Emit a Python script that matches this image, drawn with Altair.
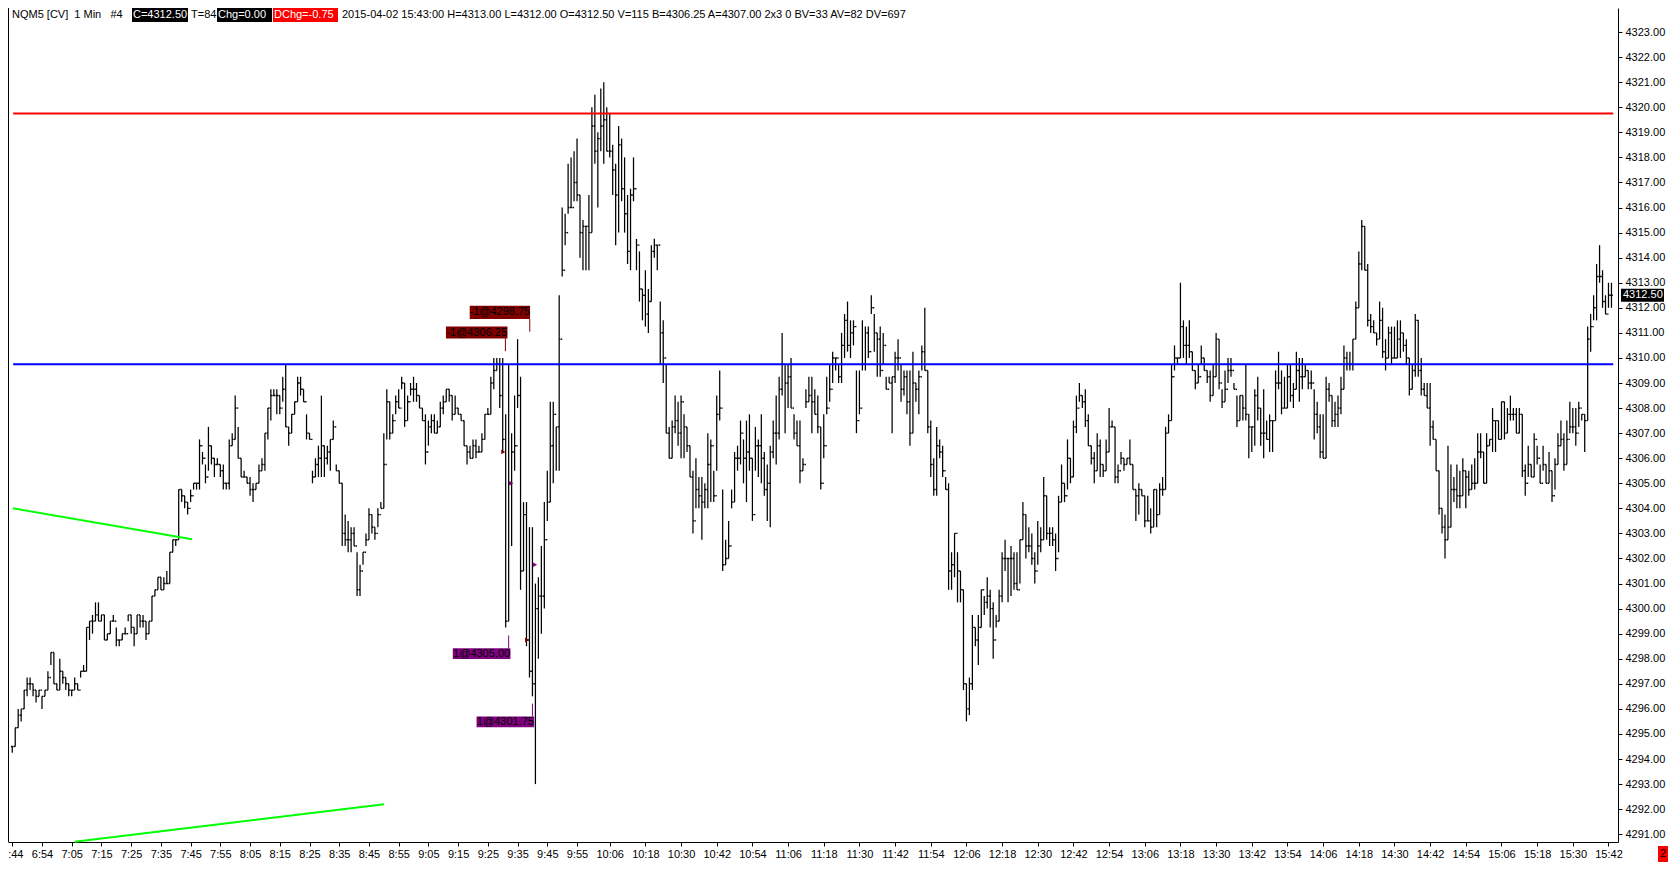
import json
import altair as alt
import pandas as pd

# ---------------- data: 1-minute bars (high, low, close), bar 0 = 6:44 ----------------
SEG1 = [
    (4294.5,4294.25,4294.5),(4295.25,4294.5,4295.25),(4296.0,4295.25,4295.75),(4296.0,4295.5,4296.0),(4296.75,4296.0,4296.75),(4297.25,4296.5,4297.0),(4297.25,4296.75,4297.0),(4297.0,4296.5,4296.75),(4296.75,4296.25,4296.5),(4296.75,4296.5,4296.75),
    (4296.5,4296.0,4296.5),(4296.75,4296.5,4296.75),(4297.5,4296.75,4297.25),(4298.25,4297.75,4298.25),(4298.25,4297.0,4297.0),(4297.0,4296.75,4296.75),(4298.0,4296.75,4297.5),(4297.5,4297.0,4297.25),(4297.25,4296.75,4297.0),(4297.0,4296.5,4296.75),
    (4296.75,4296.5,4296.75),(4297.25,4296.75,4297.0),(4297.0,4296.75,4296.75),(4297.5,4297.25,4297.5),(4297.75,4297.5,4297.5),(4299.25,4297.5,4299.25),(4299.5,4298.75,4299.5),(4299.75,4299.0,4299.5),(4300.25,4299.5,4299.75),(4300.25,4299.5,4299.5),
    (4299.75,4299.5,4299.75),(4299.75,4298.75,4298.75),(4299.0,4298.75,4299.0),(4299.5,4299.0,4299.5),(4299.75,4299.5,4299.5),(4299.25,4298.5,4298.75),(4298.75,4298.5,4298.75),(4299.0,4298.75,4299.0),(4299.25,4299.0,4299.0),(4299.75,4299.5,4299.75),
    (4299.75,4299.0,4299.25),(4299.25,4298.5,4299.0),(4299.75,4299.0,4299.75),(4299.75,4299.25,4299.5),(4299.75,4299.25,4299.5),(4299.5,4298.75,4299.0),(4299.5,4299.0,4299.5),(4300.5,4299.5,4300.5),(4300.75,4300.5,4300.75),(4301.25,4300.75,4301.25),
    (4301.25,4300.75,4300.75),(4301.25,4300.75,4301.0),(4301.5,4301.0,4301.0),(4302.25,4301.0,4302.25),(4302.75,4302.25,4302.75),(4302.75,4302.5,4302.75),(4304.75,4302.75,4304.75),(4304.75,4304.25,4304.5),(4304.5,4304.0,4304.25),(4304.25,4303.75,4304.0),
    (4304.75,4304.25,4304.5),(4305.0,4304.75,4305.0),(4305.0,4304.75,4305.0),(4306.75,4304.75,4306.5),(4306.25,4305.75,4306.0),(4305.75,4305.0,4305.25),(4307.25,4305.5,4306.5),(4306.5,4305.75,4306.0),(4306.0,4305.25,4305.75),(4306.0,4305.75,4305.75),
    (4305.75,4305.25,4305.5),(4305.75,4304.75,4305.0),(4305.0,4304.75,4305.0),(4306.75,4304.75,4306.5),(4307.0,4306.5,4306.75),(4308.5,4306.75,4308.0),(4307.25,4306.0,4306.0),(4306.0,4305.25,4305.25),(4305.5,4305.25,4305.25),(4305.25,4305.0,4305.0),
    (4305.25,4304.5,4304.75),(4305.0,4304.25,4304.75),(4305.0,4304.75,4305.0),(4305.75,4305.0,4305.5),(4306.0,4305.5,4305.75),(4307.0,4305.5,4307.0),(4308.0,4306.75,4308.0),(4308.75,4307.5,4308.5),(4308.75,4308.5,4308.5),
]
SEG2 = [
    (4308.75,4307.75,4308.5),(4308.5,4307.75,4308.0),(4309.25,4308.25,4308.75),(4309.75,4307.25,4307.25),(4307.25,4306.5,4307.0),(4307.75,4307.0,4307.75),(4308.25,4307.75,4308.25),(4309.25,4308.25,4309.0),(4309.25,4308.5,4308.75),(4308.75,4308.25,4308.25),
    (4307.75,4306.75,4307.0),(4307.0,4306.75,4306.75),(4305.5,4305.0,4305.25),(4306.0,4305.25,4305.75),(4306.5,4305.25,4306.0),(4308.5,4305.25,4306.5),(4306.5,4305.25,4306.0),(4306.5,4305.75,4306.25),(4306.75,4305.5,4306.75),(4307.5,4306.75,4307.25),
    (4305.75,4305.5,4305.5),(4305.5,4305.0,4305.0),(4305.0,4302.5,4303.0),(4303.75,4302.5,4302.75),(4303.5,4302.25,4302.75),(4303.25,4302.25,4303.0),(4303.25,4302.5,4302.5),(4302.25,4300.5,4300.75),(4301.75,4300.5,4301.5),(4302.25,4301.75,4302.25),
    (4303.0,4302.5,4302.75),(4304.0,4302.75,4303.75),(4303.75,4303.0,4303.25),(4303.25,4302.75,4303.0),(4304.0,4303.25,4303.75),(4304.25,4304.0,4304.0),(4307.0,4304.0,4305.75),(4308.75,4306.75,4308.25),(4308.25,4306.75,4307.0),(4307.75,4307.0,4307.5),
    (4308.5,4307.75,4308.25),(4308.75,4308.0,4308.0),(4309.25,4308.75,4309.0),(4309.0,4307.25,4307.5),(4308.5,4307.5,4308.25),(4309.0,4308.5,4308.75),(4309.25,4308.25,4308.75),(4309.0,4308.25,4308.5),(4308.5,4308.0,4308.0),(4308.0,4307.5,4307.5),
    (4307.75,4305.75,4306.25),(4307.5,4306.5,4307.25),(4307.75,4307.0,4307.5),(4307.75,4307.0,4307.0),(4307.5,4307.0,4307.25),(4308.25,4307.25,4308.0),(4308.5,4307.75,4308.25),(4308.75,4308.25,4308.75),(4308.75,4308.25,4308.5),(4308.5,4307.5,4307.75),
    (4308.5,4307.75,4308.0),(4308.0,4307.75,4307.75),(4307.75,4307.5,4307.5),(4307.5,4306.5,4306.5),(4306.5,4305.75,4306.25),(4306.5,4306.0,4306.0),(4306.75,4306.0,4306.5),(4306.75,4306.0,4306.25),(4306.5,4306.25,4306.25),(4307.0,4306.25,4306.75),
    (4307.75,4306.75,4307.75),(4308.0,4307.75,4307.75),(4309.25,4307.75,4309.0),(4310.0,4308.75,4309.5),(4310.0,4309.5,4309.75),(4310.0,4308.0,4308.5),(4310.0,4306.25,4306.75),
    (4307.75,4299.25,4299.5),(4309.75,4299.5,4305.0),(4307.0,4302.5,4306.25),
    (4308.5,4305.5,4306.5),(4310.75,4308.0,4308.5),(4309.25,4300.75,4301.5),(4304.25,4301.5,4303.75),(4304.25,4298.5,4298.75),(4303.25,4297.25,4297.5),(4303.25,4296.5,4297.0),(4301.0,4293.0,4300.0),(4301.25,4298.0,4300.5),(4302.5,4299.0,4300.5),
]
SEG3 = [
    (4304.25,4300.0,4302.75),(4305.5,4303.5,4304.25),(4308.25,4304.25,4306.5),(4308.25,4305.0,4307.75),(4307.25,4305.5,4307.25),(4312.5,4305.5,4310.75),(4316.0,4313.25,4313.5),(4315.75,4314.5,4315.0),(4317.75,4315.75,4316.0),(4318.0,4316.0,4316.0),
    (4318.25,4316.25,4317.0),(4318.75,4316.25,4316.5),(4316.5,4314.0,4315.0),(4315.5,4313.5,4315.25),(4315.25,4313.5,4315.25),(4316.5,4313.5,4315.0),(4320.0,4315.0,4319.25),(4320.5,4317.75,4318.25),(4319.0,4316.0,4318.75),(4320.75,4318.25,4319.25),
    (4321.0,4317.75,4319.5),(4320.0,4318.25,4318.25),(4319.75,4318.0,4318.25),(4318.5,4316.5,4317.5),(4317.75,4314.5,4316.5),(4319.25,4315.0,4318.5),(4318.75,4316.25,4316.75),(4318.0,4315.0,4315.75),(4316.5,4313.75,4314.25),(4316.75,4313.5,4316.5),
    (4318.0,4316.25,4316.75),(4314.75,4313.5,4314.5),(4314.25,4312.25,4312.75),(4312.75,4311.5,4312.5),(4313.5,4311.25,4311.75),(4312.75,4311.0,4312.25),(4314.5,4312.25,4314.25),(4314.75,4314.0,4314.5),(4314.5,4313.5,4314.5),(4312.25,4309.75,4311.0),
    (4311.5,4309.0,4310.0),(4309.75,4307.0,4307.0),(4307.25,4306.0,4306.0),(4307.5,4306.0,4307.25),(4308.5,4307.0,4307.5),(4308.25,4306.5,4307.0),(4308.5,4306.0,4308.25),(4307.75,4306.0,4307.25),(4307.25,4306.25,4306.5),(4306.5,4305.25,4305.25),
    (4305.5,4303.0,4303.5),(4306.0,4304.0,4304.75),(4305.25,4304.0,4304.5),(4305.25,4302.75,4304.25),(4305.0,4304.0,4304.75),(4307.0,4304.0,4305.75),(4306.75,4304.25,4306.5),(4305.5,4304.25,4304.5),(4308.5,4305.5,4307.75),(4309.5,4307.5,4308.0),
    (4304.75,4301.5,4301.75),(4302.75,4301.75,4302.0),(4303.5,4302.0,4302.5),(4304.75,4304.0,4304.25),(4306.25,4304.25,4306.0),(4306.5,4305.5,4306.0),(4307.5,4305.75,4307.0),(4306.75,4305.0,4306.0),(4307.5,4304.25,4306.25),(4307.75,4305.5,4306.0),
    (4306.0,4303.5,4303.75),(4307.25,4305.5,4306.5),(4306.75,4305.25,4306.5),(4307.75,4305.0,4306.0),(4306.25,4304.5,4304.75),(4305.75,4303.5,4305.0),(4306.5,4303.25,4306.25),(4307.5,4306.0,4307.0),(4308.5,4305.75,4307.0),(4309.25,4306.75,4308.75),
    (4311.0,4308.5,4309.75),(4309.75,4307.0,4309.0),(4309.75,4308.0,4309.25),(4310.0,4308.0,4308.0),(4307.75,4306.75,4307.0),(4307.5,4306.5,4306.5),(4307.5,4305.0,4305.5),(4306.0,4305.5,4305.75),(4308.75,4308.0,4308.25),(4309.25,4308.25,4308.5),
]
SEG4 = [
    (4309.25,4307.0,4308.25),(4308.75,4307.75,4307.75),(4308.5,4307.0,4307.25),(4307.25,4304.75,4305.0),(4307.75,4306.0,4306.5),(4309.25,4307.75,4308.0),(4309.75,4308.25,4308.75),(4310.25,4309.0,4310.0),(4310.0,4309.5,4310.0),(4309.75,4309.0,4309.25),
    (4311.0,4309.0,4310.5),(4311.75,4310.0,4311.5),(4312.25,4310.25,4310.5),(4311.5,4310.0,4311.0),(4311.5,4310.5,4311.25),(4309.5,4307.0,4307.5),(4309.5,4307.75,4308.0),(4311.5,4309.5,4309.75),(4311.25,4309.5,4311.0),(4311.25,4310.0,4310.25),
    (4312.5,4311.75,4312.0),(4311.75,4310.25,4311.0),(4311.0,4309.25,4310.75),(4311.25,4309.25,4309.5),(4311.0,4309.75,4310.5),(4309.25,4308.75,4308.75),(4309.25,4309.0,4309.0),(4309.25,4307.0,4309.25),(4310.25,4309.0,4310.0),(4310.75,4309.5,4310.0),
    (4309.75,4308.25,4308.75),(4309.5,4308.5,4309.25),(4309.5,4307.75,4308.25),(4309.5,4306.5,4307.0),(4310.25,4307.0,4309.0),(4309.0,4308.25,4308.75),(4309.5,4307.75,4309.25),(4310.5,4309.5,4310.25),(4312.0,4309.5,4309.5),(4309.5,4307.0,4307.25),
    (4307.5,4305.25,4305.75),(4306.0,4304.5,4304.75),(4307.25,4304.5,4306.5),(4306.75,4306.0,4306.25),(4306.5,4305.25,4305.5),(4305.25,4304.75,4304.75),(4305.0,4300.75,4301.5),(4302.25,4300.75,4301.75),(4303.0,4301.25,4303.0),(4302.25,4300.25,4301.5),
    (4301.5,4300.25,4300.75),(4300.75,4296.75,4297.0),(4297.0,4295.5,4296.0),(4297.25,4295.75,4297.0),(4299.75,4296.75,4299.25),(4299.25,4298.5,4298.75),(4299.75,4297.75,4299.25),(4300.75,4299.25,4300.75),(4300.5,4299.75,4300.25),(4301.25,4300.0,4300.5),
    (4300.75,4299.25,4300.0),(4300.25,4298.0,4298.75),(4299.75,4299.25,4299.5),(4300.75,4299.5,4300.5),(4302.25,4300.25,4302.0),(4302.75,4301.5,4302.0),(4302.0,4300.25,4302.0),(4302.5,4300.5,4302.0),(4302.25,4300.75,4301.0),(4302.25,4300.75,4300.75),
    (4302.75,4301.0,4302.75),(4304.25,4302.75,4303.75),(4303.75,4302.0,4302.5),(4303.25,4302.25,4302.5),(4303.0,4301.75,4302.0),(4302.25,4301.0,4301.5),(4303.5,4301.75,4302.5),(4303.25,4302.25,4302.75),(4305.25,4302.75,4304.5),(4304.5,4302.75,4303.0),
    (4303.25,4302.5,4303.0),(4303.25,4302.5,4302.75),(4303.0,4301.5,4302.0),(4304.5,4302.25,4304.25),(4305.75,4304.25,4305.0),(4305.0,4304.25,4304.5),(4306.75,4304.75,4306.0),(4306.0,4305.0,4305.25),(4307.5,4305.25,4307.25),(4308.5,4307.0,4308.0),
]
SEG5 = [
    (4309.0,4308.25,4308.5),(4308.5,4308.0,4308.25),(4308.75,4307.25,4307.5),(4307.75,4306.5,4306.5),(4306.5,4305.75,4306.0),(4306.25,4305.0,4305.5),(4307.0,4305.5,4306.5),(4306.75,4305.25,4305.75),(4305.75,4305.25,4305.5),(4306.75,4305.5,4306.25),
    (4308.0,4306.25,4307.25),(4307.5,4307.25,4307.25),(4307.25,4305.0,4305.25),(4305.75,4305.0,4305.5),(4306.25,4305.75,4306.0),(4306.0,4305.5,4305.75),(4306.0,4305.75,4306.0),(4306.75,4305.75,4305.75),(4305.75,4304.75,4304.75),(4304.75,4303.5,4304.5),
    (4305.0,4303.75,4304.75),(4304.75,4304.5,4304.5),(4304.5,4303.25,4303.5),(4304.5,4303.5,4303.5),(4304.0,4303.0,4303.25),(4304.75,4303.25,4304.75),(4304.75,4303.25,4303.75),(4305.0,4303.75,4304.75),(4305.25,4304.5,4304.75),(4307.25,4304.75,4307.0),
    (4307.75,4307.0,4307.5),(4309.75,4307.5,4309.25),(4310.5,4309.5,4310.0),(4310.0,4309.75,4310.0),(4313.0,4310.0,4311.25),(4311.5,4310.0,4310.5),(4311.25,4309.75,4310.5),(4311.5,4310.0,4310.25),(4310.25,4309.5,4309.5),(4309.5,4308.75,4309.0),
    (4309.75,4309.0,4309.25),(4310.5,4309.75,4310.0),(4310.0,4309.5,4309.5),(4309.5,4309.0,4309.25),(4309.5,4308.25,4308.5),(4309.75,4308.5,4309.25),(4311.0,4309.25,4310.75),(4310.75,4308.75,4309.0),(4308.75,4308.0,4308.25),(4309.5,4308.25,4308.75),
    (4310.0,4309.0,4309.5),(4310.0,4309.25,4309.5),(4309.0,4308.75,4308.75),(4308.5,4307.25,4307.5),(4308.5,4307.5,4308.5),(4308.5,4307.5,4308.0),(4309.75,4307.5,4307.75),(4307.75,4306.0,4307.25),(4307.25,4306.25,4307.25),(4308.75,4306.5,4308.5),
    (4309.25,4307.5,4308.0),(4308.0,4306.5,4307.0),(4308.75,4306.0,4307.0),(4307.5,4306.75,4306.75),(4307.75,4306.25,4307.5),(4307.5,4306.25,4307.5),(4309.5,4307.5,4309.0),(4310.25,4308.75,4309.0),(4309.5,4307.75,4308.0),(4309.25,4308.0,4308.0),
    (4309.75,4308.0,4309.25),(4309.75,4308.25,4308.5),(4309.0,4308.0,4308.75),(4310.25,4308.75,4309.5),(4310.0,4308.25,4309.25),(4310.0,4308.75,4309.25),(4309.75,4309.25,4309.5),(4309.5,4308.75,4309.0),(4309.5,4308.75,4309.0),(4308.75,4306.75,4307.75),
    (4308.25,4307.0,4307.25),(4307.75,4306.0,4306.25),(4307.75,4306.0,4306.0),(4309.25,4306.0,4308.75),(4309.0,4308.25,4308.5),(4308.5,4307.25,4307.5),(4308.25,4307.25,4307.75),(4308.5,4307.25,4308.0),(4309.25,4307.75,4308.75),(4310.5,4308.75,4310.0),
]
SEG6 = [
    (4310.25,4309.5,4309.75),(4310.25,4309.5,4309.75),(4310.75,4309.5,4310.75),(4312.25,4310.75,4312.0),(4314.25,4312.0,4313.75),(4315.5,4313.5,4315.25),(4315.25,4313.5,4313.5),(4313.75,4311.25,4311.5),(4311.75,4311.0,4311.25),(4311.5,4311.0,4311.0),
    (4311.0,4310.5,4310.75),(4312.25,4310.75,4311.5),(4312.0,4310.0,4310.25),(4310.75,4309.5,4310.0),(4311.25,4310.0,4311.0),(4311.25,4309.75,4310.0),(4311.25,4310.0,4310.0),(4311.5,4310.0,4310.75),(4311.5,4310.0,4311.0),(4311.0,4310.25,4310.5),
    (4310.75,4309.75,4310.0),(4310.0,4308.5,4308.75),(4309.75,4308.75,4309.5),(4311.75,4309.25,4311.5),(4311.5,4309.25,4309.5),(4310.0,4308.5,4308.75),(4309.0,4308.5,4308.5),(4309.0,4308.0,4308.0),(4309.0,4306.5,4307.25),(4307.5,4306.75,4306.75),
    (4306.75,4305.5,4305.5),(4305.5,4303.75,4304.0),(4304.0,4303.0,4303.25),(4303.75,4302.0,4302.75),(4306.5,4302.75,4303.25),(4305.75,4303.25,4304.75),(4305.25,4304.25,4304.75),(4305.75,4304.0,4304.5),(4305.5,4304.0,4304.5),(4306.0,4304.5,4305.5),
    (4305.5,4304.0,4305.25),(4305.5,4304.5,4304.75),(4305.75,4304.75,4305.0),(4306.0,4304.75,4305.0),(4307.0,4305.0,4306.25),(4307.0,4306.0,4306.25),(4306.25,4305.0,4305.0),(4307.0,4305.0,4306.5),(4306.75,4306.5,4306.75),(4308.0,4306.25,4307.5),
    (4307.5,4306.25,4307.5),(4307.5,4306.75,4306.75),(4308.25,4306.75,4308.25),(4308.25,4306.75,4307.0),(4308.0,4307.0,4307.75),(4308.5,4307.5,4307.75),(4308.0,4307.5,4307.75),(4308.0,4307.0,4307.0),(4308.0,4307.0,4307.75),(4307.75,4305.25,4305.5),
    (4305.75,4304.5,4305.0),(4306.5,4305.25,4305.75),(4305.75,4305.25,4305.25),(4307.0,4305.25,4306.75),(4306.5,4305.75,4306.0),(4305.75,4305.0,4305.0),(4306.5,4305.5,4305.75),(4305.75,4305.0,4305.0),(4306.25,4305.0,4305.5),(4305.5,4304.25,4304.5),
    (4306.0,4304.75,4305.75),(4307.0,4305.75,4306.5),(4307.5,4306.5,4306.75),(4307.0,4305.5,4305.75),(4307.5,4305.75,4306.75),(4308.25,4307.0,4307.25),(4308.0,4307.0,4307.25),(4308.0,4306.5,4307.0),(4308.25,4307.25,4308.0),(4307.75,4307.5,4307.75),
    (4307.75,4306.25,4307.5),(4311.25,4307.5,4310.75),(4311.75,4310.25,4311.25),(4312.5,4311.5,4312.0),(4313.75,4311.5,4313.25),(4314.5,4313.0,4313.25),(4313.5,4312.0,4312.25),(4312.5,4311.75,4311.75),(4313.0,4312.0,4312.5),(4313.0,4312.0,4312.5),
]
BARS = SEG1 + SEG2 + SEG3 + SEG4 + SEG5 + SEG6

TICK_BARS = [0, 10, 20, 30, 40, 50, 60, 70, 80, 90, 100, 110, 120, 130, 140, 150, 160, 170, 180, 190,
             201, 213, 225, 237, 249, 261, 273, 285, 297, 309, 321, 333, 345, 357, 369, 381, 393, 405,
             417, 429, 441, 453, 465, 477, 489, 501, 513, 525, 537]
TICK_LABELS = ["6:44", "6:54", "7:05", "7:15", "7:25", "7:35", "7:45", "7:55", "8:05", "8:15", "8:25",
               "8:35", "8:45", "8:55", "9:05", "9:15", "9:25", "9:35", "9:45", "9:55", "10:06", "10:18",
               "10:30", "10:42", "10:54", "11:06", "11:18", "11:30", "11:42", "11:54", "12:06", "12:18",
               "12:30", "12:42", "12:54", "13:06", "13:18", "13:30", "13:42", "13:54", "14:06", "14:18",
               "14:30", "14:42", "14:54", "15:06", "15:18", "15:30", "15:42"]
PRICE_TICKS = [4291, 4292, 4293, 4294, 4295, 4296, 4297, 4298, 4299, 4300, 4301, 4302, 4303, 4304, 4305,
               4306, 4307, 4308, 4309, 4310, 4311, 4312, 4313, 4314, 4315, 4316, 4317, 4318, 4319, 4320,
               4321, 4322, 4323]

LEVEL_PRICES = [4319.75, 4309.75]
LEVEL_COLORS = ["#ff0000", "#0000ff"]
LEVEL_FROM = [0.3, 0.3]
LEVEL_TO = [538.6, 538.6]

TREND_X0 = [0.2, 21.0]
TREND_Y0 = [4304.0, 4290.7]
TREND_X1 = [60.5, 125.1]
TREND_Y1 = [4302.77, 4292.2]

FILL_TEXT = ["-1@4306.25", "-1@4298.75", "1@4305.00", "1@4301.75"]
FILL_BAR = [165.2, 173.2, 167.9, 175.9]
FILL_PRICE = [4306.25, 4298.75, 4305.00, 4301.75]
FILL_COLOR = ["#800000", "#800000", "#800080", "#800080"]
TAG_X0 = [145.9, 153.9, 148.2, 156.2]
TAG_X1 = [166.6, 174.2, 167.6, 175.6]
TAG_Y0 = [4310.78, 4311.55, 4297.99, 4295.27]
TAG_Y1 = [4311.25, 4312.08, 4298.42, 4295.70]
LEAD_X = [165.9, 174.1, 167.0, 175.0]
LEAD_Y0 = [4310.27, 4311.05, 4298.93, 4296.21]
LEAD_Y1 = [4310.78, 4311.55, 4298.42, 4295.70]

HEADER = ["NQM5\u00a0[CV]\u00a0\u00a01\u00a0Min\u00a0\u00a0\u00a0#4", "C=4312.50", "T=84", "Chg=0.00", "DChg=-0.75",
          "2015-04-02 15:43:00 H=4313.00 L=4312.00 O=4312.50 V=115 B=4306.25 A=4307.00 2x3 0 BV=33 AV=82 DV=697"]
CORNER_TEXT = "2"

# ---------------- chart ----------------
FONT = "Liberation Sans"
W, H = 1610, 834
xs = alt.Scale(domain=[-1.43, 540.2], nice=False, zero=False)
ys = alt.Scale(domain=[4290.69, 4323.96], nice=False, zero=False)

df = pd.DataFrame(BARS, columns=["high", "low", "close"])
df["bar"] = range(len(df))
df["open"] = df["close"].shift(1).fillna(df["close"].iloc[0])

lbl_expr = f"{json.dumps(TICK_LABELS)}[indexof({json.dumps(TICK_BARS)}, datum.value)]"
XA = alt.Axis(orient="bottom", values=TICK_BARS, labelExpr=lbl_expr, title=None, grid=False,
              domainColor="black", tickColor="black", tickSize=4, labelFont=FONT, labelFontSize=11,
              labelColor="black", labelPadding=2, labelOverlap=False, labelFlush=False)
YA = alt.Axis(orient="right", values=PRICE_TICKS, format=".2f", title=None, grid=False,
              domainColor="black", tickColor="black", tickSize=4, labelFont=FONT, labelFontSize=11,
              labelColor="black", labelPadding=3, labelOverlap=False)


def X(f):
    return alt.X(f, scale=xs, axis=XA)


def Y(f):
    return alt.Y(f, scale=ys, axis=YA)


ranges = alt.Chart(df).mark_rule(color="black", strokeWidth=1.25).encode(
    x=X("bar:Q"), y=Y("low:Q"), y2="high:Q")
opens = alt.Chart(df).transform_calculate(xl="datum.bar - 0.45").mark_rule(color="black", strokeWidth=1.4).encode(
    x=X("xl:Q"), x2="bar:Q", y=Y("open:Q"))
closes = alt.Chart(df).transform_calculate(xr="datum.bar + 0.45").mark_rule(color="black", strokeWidth=1.4).encode(
    x=X("bar:Q"), x2="xr:Q", y=Y("close:Q"))

lev_df = pd.DataFrame({"p": LEVEL_PRICES, "c": LEVEL_COLORS, "a": LEVEL_FROM, "b": LEVEL_TO})
levels = alt.Chart(lev_df).mark_rule(strokeWidth=2).encode(
    x=X("a:Q"), x2="b:Q", y=Y("p:Q"), color=alt.Color("c:N", scale=None))

tr_df = pd.DataFrame({"x0": TREND_X0, "y0": TREND_Y0, "x1": TREND_X1, "y1": TREND_Y1})
trends = alt.Chart(tr_df).mark_rule(color="#00ff00", strokeWidth=2).encode(
    x=X("x0:Q"), y=Y("y0:Q"), x2="x1:Q", y2="y1:Q")

fill_df = pd.DataFrame({"t": FILL_TEXT, "fx": FILL_BAR, "fp": FILL_PRICE, "c": FILL_COLOR,
                        "x0": TAG_X0, "x1": TAG_X1, "y0": TAG_Y0, "y1": TAG_Y1,
                        "lx": LEAD_X, "ly0": LEAD_Y0, "ly1": LEAD_Y1})
marks_fill = alt.Chart(fill_df).mark_point(shape="triangle-right", filled=True, size=22, opacity=1).encode(
    x=X("fx:Q"), y=Y("fp:Q"), color=alt.Color("c:N", scale=None))
leads = alt.Chart(fill_df).mark_rule(strokeWidth=1).encode(
    x=X("lx:Q"), y=Y("ly0:Q"), y2="ly1:Q", color=alt.Color("c:N", scale=None))
tag_boxes = alt.Chart(fill_df).mark_rect().encode(
    x=X("x0:Q"), x2="x1:Q", y=Y("y0:Q"), y2="y1:Q", color=alt.Color("c:N", scale=None))
tag_text = alt.Chart(fill_df).transform_calculate(
    xm="(datum.x0 + datum.x1) / 2", ym="(datum.y0 + datum.y1) / 2"
).mark_text(font=FONT, fontSize=11, color="black", align="center", baseline="middle").encode(
    x=X("xm:Q"), y=Y("ym:Q"), text="t:N")

last_df = pd.DataFrame({"p": [BARS[-1][2]], "t": [f"{BARS[-1][2]:.2f}"]})
last_box = alt.Chart(last_df).transform_calculate(lo="datum.p - 0.26", hi="datum.p + 0.26").mark_rect(color="black").encode(
    x=alt.value(W + 3), x2=alt.value(W + 46), y=Y("lo:Q"), y2="hi:Q")
last_txt = alt.Chart(last_df).mark_text(font=FONT, fontSize=11, color="white", align="left", baseline="middle").encode(
    x=alt.value(W + 5), y=Y("p:Q"), text="t:N")

one = pd.DataFrame({"t": [CORNER_TEXT]})
left_border = alt.Chart(one).mark_rule(color="black", strokeWidth=1).encode(
    x=alt.value(0.5), y=alt.value(0), y2=alt.value(H))
corner_box = alt.Chart(one).mark_rect(color="#ff0000").encode(
    x=alt.value(W + 40), x2=alt.value(W + 50), y=alt.value(H + 4), y2=alt.value(H + 20))
corner_txt = alt.Chart(one).mark_text(font=FONT, fontSize=11, color="black", align="center", baseline="middle").encode(
    x=alt.value(W + 45), y=alt.value(H + 12), text="t:N")

hdr_df = pd.DataFrame({"t": HEADER})


def hdr_text(k, x, color="black"):
    return alt.Chart(hdr_df).transform_filter(f"datum.t == {json.dumps(HEADER[k])}").mark_text(
        font=FONT, fontSize=11, color=color, align="left", baseline="middle").encode(
        x=alt.value(x), y=alt.value(7), text="t:N")


def hdr_box(x0, x1, color):
    return alt.Chart(one).mark_rect(color=color).encode(
        x=alt.value(x0), x2=alt.value(x1), y=alt.value(0), y2=alt.value(14))


header = [
    hdr_text(0, 4),
    hdr_box(124, 180, "black"), hdr_text(1, 125, "white"),
    hdr_text(2, 183),
    hdr_box(209, 264, "black"), hdr_text(3, 210, "white"),
    hdr_box(265, 330, "#ff0000"), hdr_text(4, 266, "white"),
    hdr_text(5, 334),
]

chart = alt.layer(
    ranges, opens, closes, levels, trends, leads, tag_boxes, tag_text, marks_fill,
    last_box, last_txt, left_border, corner_box, corner_txt, *header
).properties(
    width=W, height=H,
    autosize=alt.AutoSizeParams(type="none"),
    padding={"left": 0, "top": 0, "right": 50, "bottom": 22},
).configure_view(stroke=None)

chart.save("out.html", embed_options={"renderer": "svg", "actions": False})
